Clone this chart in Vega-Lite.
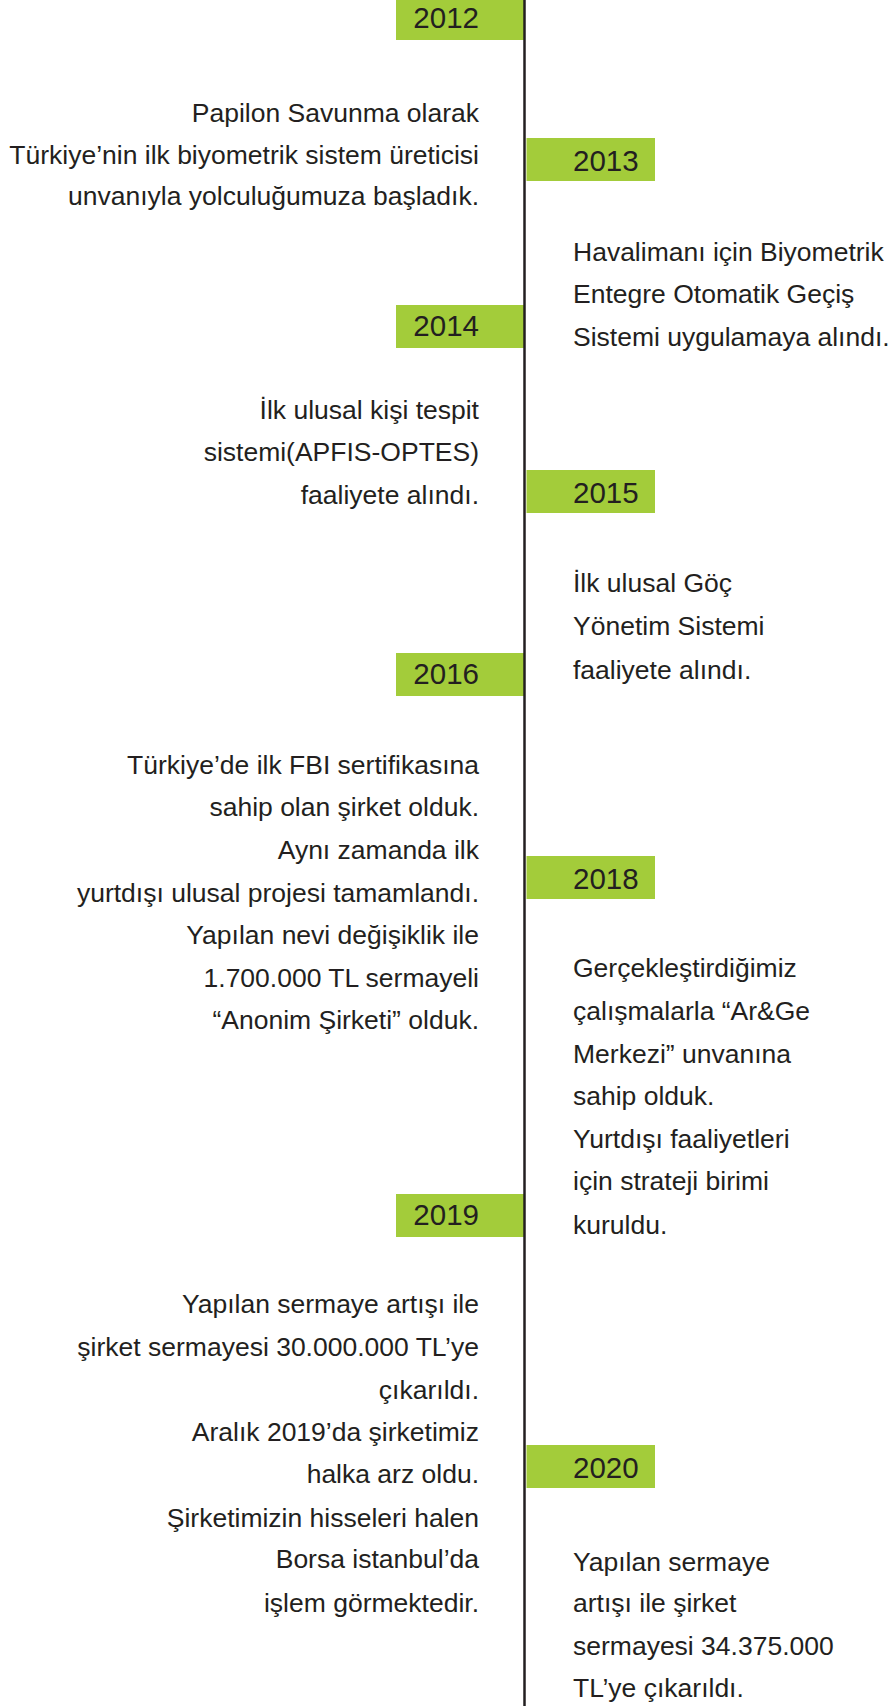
{
  "$schema": "https://vega.github.io/schema/vega-lite/v6.json",
  "width": 892,
  "height": 1706,
  "autosize": {"type": "none"},
  "padding": 0,
  "background": "white",
  "config": {"view": {"stroke": null}},
  "datasets": {
    "spine": [{"side": "L", "from": 0, "to": 1706}],
    "years": [
      {"year": "2012", "side": "L", "start": -3, "end": 40},
      {"year": "2013", "side": "R", "start": 138, "end": 181},
      {"year": "2014", "side": "L", "start": 305, "end": 348},
      {"year": "2015", "side": "R", "start": 470, "end": 513},
      {"year": "2016", "side": "L", "start": 653, "end": 696},
      {"year": "2018", "side": "R", "start": 856, "end": 899},
      {"year": "2019", "side": "L", "start": 1194, "end": 1237},
      {"year": "2020", "side": "R", "start": 1445, "end": 1488}
    ],
    "notes": [
      {"side": "L", "pos": 122, "text": "Papilon Savunma olarak"},
      {"side": "L", "pos": 163.5, "text": "Türkiye’nin ilk biyometrik sistem üreticisi"},
      {"side": "L", "pos": 205, "text": "unvanıyla yolculuğumuza başladık."},
      {"side": "L", "pos": 419, "text": "İlk ulusal kişi tespit"},
      {"side": "L", "pos": 461, "text": "sistemi(APFIS-OPTES)"},
      {"side": "L", "pos": 504, "text": "faaliyete alındı."},
      {"side": "L", "pos": 774, "text": "Türkiye’de ilk FBI sertifikasına"},
      {"side": "L", "pos": 816, "text": "sahip olan şirket olduk."},
      {"side": "L", "pos": 859, "text": "Aynı zamanda ilk"},
      {"side": "L", "pos": 902, "text": "yurtdışı ulusal projesi tamamlandı."},
      {"side": "L", "pos": 944, "text": "Yapılan nevi değişiklik ile"},
      {"side": "L", "pos": 987, "text": "1.700.000 TL sermayeli"},
      {"side": "L", "pos": 1029, "text": "“Anonim Şirketi” olduk."},
      {"side": "L", "pos": 1313, "text": "Yapılan sermaye artışı ile"},
      {"side": "L", "pos": 1356, "text": "şirket sermayesi 30.000.000 TL’ye"},
      {"side": "L", "pos": 1399, "text": "çıkarıldı."},
      {"side": "L", "pos": 1441, "text": "Aralık 2019’da şirketimiz"},
      {"side": "L", "pos": 1483, "text": "halka arz oldu."},
      {"side": "L", "pos": 1527, "text": "Şirketimizin hisseleri halen"},
      {"side": "L", "pos": 1568, "text": "Borsa istanbul’da"},
      {"side": "L", "pos": 1612, "text": "işlem görmektedir."},
      {"side": "R", "pos": 261, "text": "Havalimanı için Biyometrik"},
      {"side": "R", "pos": 303, "text": "Entegre Otomatik Geçiş"},
      {"side": "R", "pos": 346, "text": "Sistemi uygulamaya alındı."},
      {"side": "R", "pos": 592, "text": "İlk ulusal Göç"},
      {"side": "R", "pos": 635, "text": "Yönetim Sistemi"},
      {"side": "R", "pos": 679, "text": "faaliyete alındı."},
      {"side": "R", "pos": 977, "text": "Gerçekleştirdiğimiz"},
      {"side": "R", "pos": 1020, "text": "çalışmalarla “Ar&Ge"},
      {"side": "R", "pos": 1063, "text": "Merkezi” unvanına"},
      {"side": "R", "pos": 1105, "text": "sahip olduk."},
      {"side": "R", "pos": 1148, "text": "Yurtdışı faaliyetleri"},
      {"side": "R", "pos": 1190, "text": "için strateji birimi"},
      {"side": "R", "pos": 1234, "text": "kuruldu."},
      {"side": "R", "pos": 1571, "text": "Yapılan sermaye"},
      {"side": "R", "pos": 1612, "text": "artışı ile şirket"},
      {"side": "R", "pos": 1655, "text": "sermayesi 34.375.000"},
      {"side": "R", "pos": 1697, "text": "TL’ye çıkarıldı."}
    ]
  },
  "layer": [
    {
      "data": {"name": "years"},
      "mark": {"type": "rect", "color": "#a3cc3a", "clip": true},
      "encoding": {
        "x": {"field": "side", "type": "nominal", "axis": null,
              "scale": {"type": "band", "domain": ["L", "R"], "range": [396, 655], "paddingInner": 0.0153, "paddingOuter": 0}},
        "y": {"field": "start", "type": "quantitative", "axis": null,
              "scale": {"domain": [0, 1706], "reverse": true, "nice": false, "zero": false}},
        "y2": {"field": "end"}
      }
    },
    {
      "data": {"name": "spine"},
      "mark": {"type": "rule", "color": "#231f20", "strokeWidth": 2.5},
      "encoding": {
        "x": {"field": "side", "type": "nominal", "axis": null, "bandPosition": 1,
              "scale": {"type": "band", "domain": ["L", "R"], "range": [396, 655], "paddingInner": 0.0153, "paddingOuter": 0}},
        "y": {"field": "from", "type": "quantitative", "axis": null},
        "y2": {"field": "to"}
      }
    },
    {
      "data": {"name": "years"},
      "transform": [{"filter": "datum.side === 'L'"}],
      "mark": {"type": "text", "align": "right", "baseline": "alphabetic", "dy": 31, "font": "Liberation Sans", "fontSize": 29.5, "color": "#231f20"},
      "encoding": {
        "x": {"field": "side", "type": "nominal", "axis": null,
              "scale": {"type": "point", "domain": ["L", "R"], "range": [479, 573], "padding": 0}},
        "y": {"field": "start", "type": "quantitative", "axis": null},
        "text": {"field": "year", "type": "nominal"}
      }
    },
    {
      "data": {"name": "years"},
      "transform": [{"filter": "datum.side === 'R'"}],
      "mark": {"type": "text", "align": "left", "baseline": "alphabetic", "dy": 33, "font": "Liberation Sans", "fontSize": 29.5, "color": "#231f20"},
      "encoding": {
        "x": {"field": "side", "type": "nominal", "axis": null,
              "scale": {"type": "point", "domain": ["L", "R"], "range": [479, 573], "padding": 0}},
        "y": {"field": "start", "type": "quantitative", "axis": null},
        "text": {"field": "year", "type": "nominal"}
      }
    },
    {
      "data": {"name": "notes"},
      "transform": [{"filter": "datum.side === 'L'"}],
      "mark": {"type": "text", "align": "right", "baseline": "alphabetic", "font": "Liberation Sans", "fontSize": 26.5, "color": "#231f20"},
      "encoding": {
        "x": {"field": "side", "type": "nominal", "axis": null,
              "scale": {"type": "point", "domain": ["L", "R"], "range": [479, 573], "padding": 0}},
        "y": {"field": "pos", "type": "quantitative", "axis": null},
        "text": {"field": "text", "type": "nominal"}
      }
    },
    {
      "data": {"name": "notes"},
      "transform": [{"filter": "datum.side === 'R'"}],
      "mark": {"type": "text", "align": "left", "baseline": "alphabetic", "font": "Liberation Sans", "fontSize": 26.5, "color": "#231f20"},
      "encoding": {
        "x": {"field": "side", "type": "nominal", "axis": null,
              "scale": {"type": "point", "domain": ["L", "R"], "range": [479, 573], "padding": 0}},
        "y": {"field": "pos", "type": "quantitative", "axis": null},
        "text": {"field": "text", "type": "nominal"}
      }
    }
  ],
  "resolve": {"scale": {"x": "independent"}}
}
